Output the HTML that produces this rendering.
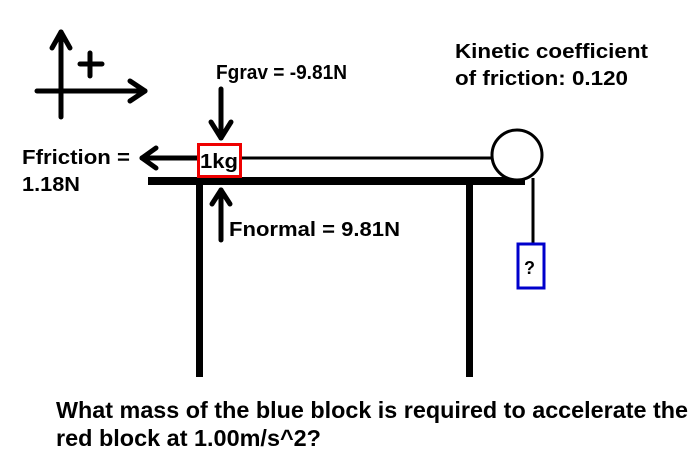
<!DOCTYPE html>
<html><head><style>body{margin:0;background:#fff}svg{display:block}</style></head>
<body>
<svg width="700" height="467" viewBox="0 0 700 467" xmlns="http://www.w3.org/2000/svg" font-family="Liberation Sans, Arial, sans-serif" font-weight="bold">
<g stroke="#000" stroke-width="5" fill="none" stroke-linecap="round" stroke-linejoin="round">
<line x1="61" y1="32" x2="61" y2="117"/>
<polyline points="52,48 61,32 70,48"/>
<line x1="37" y1="91" x2="145" y2="91"/>
<polyline points="130,81 145,91 130,101"/>
<line x1="80" y1="64" x2="102" y2="64"/>
<line x1="90" y1="53" x2="90" y2="76"/>
<line x1="221" y1="89" x2="221" y2="138"/>
<polyline points="211,122 221,138 231,122"/>
<line x1="197" y1="158" x2="142" y2="158"/>
<polyline points="156,148 142,158 156,168"/>
<line x1="221" y1="240" x2="221" y2="190"/>
<polyline points="212,204 221,190 230,204"/>
</g>
<rect x="148" y="177" width="377" height="8" fill="#000"/>
<rect x="196" y="185" width="7" height="192" fill="#000"/>
<rect x="466" y="185" width="7" height="192" fill="#000"/>
<line x1="241" y1="158" x2="493" y2="158" stroke="#000" stroke-width="3"/>
<line x1="533" y1="178" x2="533" y2="243" stroke="#000" stroke-width="3"/>
<circle cx="517" cy="155" r="25" fill="#fff" stroke="#000" stroke-width="3"/>
<rect x="198.5" y="144.5" width="42" height="32" fill="#fff" stroke="#e00" stroke-width="3"/>
<rect x="518" y="244" width="26" height="44" fill="#fff" stroke="#00c" stroke-width="3"/>
<g fill="#000" font-size="20">
<text x="200" y="168" textLength="38" lengthAdjust="spacingAndGlyphs">1kg</text>
<text x="524" y="274" font-size="18">?</text>
<text x="22" y="164" textLength="108" lengthAdjust="spacingAndGlyphs">Ffriction =</text>
<text x="22" y="191" textLength="58" lengthAdjust="spacingAndGlyphs">1.18N</text>
<text x="216" y="79" textLength="131" lengthAdjust="spacingAndGlyphs">Fgrav = -9.81N</text>
<text x="229" y="236" textLength="171" lengthAdjust="spacingAndGlyphs">Fnormal = 9.81N</text>
<text x="455" y="58" textLength="193" lengthAdjust="spacingAndGlyphs">Kinetic coefficient</text>
<text x="455" y="85" textLength="173" lengthAdjust="spacingAndGlyphs">of friction: 0.120</text>
<text x="56" y="418" font-size="23" textLength="632" lengthAdjust="spacingAndGlyphs">What mass of the blue block is required to accelerate the</text>
<text x="56" y="446" font-size="23" textLength="265" lengthAdjust="spacingAndGlyphs">red block at 1.00m/s^2?</text>
</g>
</svg>
</body></html>
